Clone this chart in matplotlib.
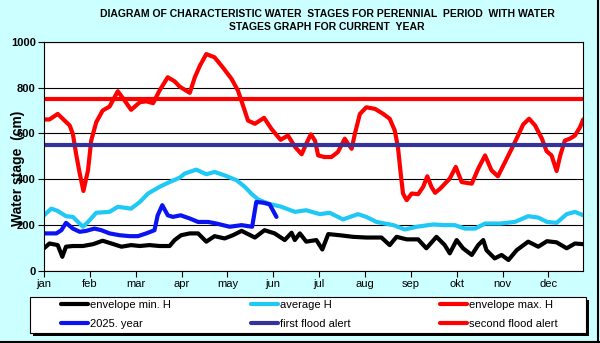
import matplotlib
matplotlib.use("Agg")
import matplotlib.pyplot as plt
from matplotlib.lines import Line2D
from matplotlib.patches import Rectangle

plt.rcParams['font.family'] = ['Liberation Sans', 'DejaVu Sans']

months = ["jan", "feb", "mar", "apr", "may", "jun",
          "jul", "aug", "sep", "okt", "nov", "dec"]

# positions are in month units (0 = 1 jan)
max_x = [0, 0.12, 0.30, 0.45, 0.56, 0.63, 0.70, 0.78, 0.86, 0.96, 1.03, 1.14, 1.28, 1.43,
         1.61, 1.76, 1.90, 2.09, 2.23, 2.38, 2.52, 2.70, 2.85, 2.96, 3.18, 3.29, 3.40,
         3.54, 3.72, 3.90, 4.09, 4.23, 4.34, 4.45, 4.60, 4.80, 4.96, 5.16, 5.32, 5.48,
         5.62, 5.72, 5.82, 5.91, 5.98, 6.12, 6.27, 6.41, 6.56, 6.63, 6.71, 6.78, 6.89,
         7.03, 7.22, 7.40, 7.54, 7.65, 7.72, 7.78, 7.83, 7.91, 8.02, 8.16, 8.27, 8.36,
         8.45, 8.53, 8.64, 8.74, 8.85, 8.98, 9.11, 9.22, 9.33, 9.47, 9.62, 9.76, 9.90,
         10.02, 10.20, 10.34, 10.45, 10.58, 10.71, 10.86, 10.96, 11.07, 11.18, 11.26,
         11.36, 11.47, 11.58, 11.69, 11.76]
max_h = [661, 661, 685, 656, 635, 598, 511, 425, 349, 439, 569, 649, 700, 717,
         784, 743, 703, 736, 740, 732, 787, 845, 827, 804, 777, 845, 895,
         946, 932, 888, 838, 787, 722, 656, 642, 668, 620, 572, 591, 540,
         509, 555, 596, 569, 504, 497, 497, 519, 577, 555, 533, 598, 685,
         714, 707, 685, 664, 613, 540, 425, 338, 309, 338, 335, 367, 413,
         367, 341, 359, 380, 403, 454, 388, 384, 381, 446, 504, 439, 413,
         461, 533, 591, 639, 664, 635, 577, 523, 504, 436, 504,
         569, 577, 591, 627, 661]

avg_x = [0, 0.16, 0.30, 0.48, 0.63, 0.85, 0.96, 1.14, 1.43, 1.61, 1.90, 2.09, 2.27,
         2.52, 2.74, 2.96, 3.07, 3.32, 3.54, 3.72, 3.94, 4.20, 4.38, 4.52, 4.67, 4.89,
         5.18, 5.47, 5.72, 5.91, 6.02, 6.23, 6.52, 6.85, 7.03, 7.25, 7.62, 7.87, 8.13,
         8.49, 8.74, 8.96, 9.18, 9.40, 9.62, 9.95, 10.27, 10.56, 10.78, 10.97, 11.18,
         11.40, 11.58, 11.76]
avg_h = [243, 272, 262, 239, 236, 193, 214, 254, 258, 280, 272, 301, 338,
         367, 388, 407, 425, 442, 422, 432, 417, 396, 367, 338, 312, 294,
         280, 258, 265, 254, 248, 254, 225, 248, 236, 214, 200, 181, 193,
         203, 200, 200, 185, 185, 207, 207, 214, 239, 233, 214, 210,
         248, 258, 243]

min_x = [0, 0.12, 0.30, 0.40, 0.48, 0.63, 0.85, 1.07, 1.28, 1.47, 1.69, 1.90, 2.09,
         2.30, 2.52, 2.74, 2.85, 2.99, 3.18, 3.36, 3.54, 3.72, 3.94, 4.12, 4.31, 4.60,
         4.81, 5.03, 5.25, 5.40, 5.47, 5.58, 5.72, 5.94, 6.07, 6.20, 6.45, 6.74, 7.03,
         7.36, 7.54, 7.69, 7.91, 8.16, 8.34, 8.56, 8.74, 8.85, 9.00, 9.14, 9.33, 9.47,
         9.58, 9.65, 9.83, 9.98, 10.13, 10.31, 10.56, 10.78, 10.97, 11.18, 11.40,
         11.58, 11.76]
min_h = [99, 120, 113, 62, 106, 109, 109, 117, 132, 120, 106, 113, 109,
         113, 109, 109, 135, 156, 164, 164, 128, 152, 142, 156, 175, 146,
         178, 164, 135, 167, 135, 164, 128, 135, 94, 161, 156, 149, 146,
         146, 113, 149, 138, 138, 99, 149, 113, 77, 135, 99, 70, 113,
         135, 91, 55, 70, 48, 91, 128, 106, 130, 125, 99,
         120, 117]

cur_x = [0, 0.27, 0.38, 0.48, 0.63, 0.78, 0.92, 1.10, 1.25, 1.43, 1.65, 1.87, 2.05,
         2.23, 2.41, 2.48, 2.58, 2.70, 2.81, 2.98, 3.18, 3.36, 3.58, 3.76, 4.05, 4.31,
         4.54, 4.63, 4.78, 4.92, 5.07]
cur_h = [164, 164, 178, 210, 185, 171, 175, 185, 178, 164, 156, 152, 152,
         164, 178, 243, 287, 243, 236, 243, 229, 214, 214, 207, 193, 200,
         193, 301, 298, 291, 236]

first_alert = 550
second_alert = 750

x_end = 11.76

W, H = 600, 343
fig = plt.figure(figsize=(6, 3.43), dpi=100, facecolor="#CCFFFF")
# dark right / bottom edge of the chart area
fig.lines.append(Line2D([598 / W, 598 / W], [0, 1], transform=fig.transFigure,
                        color="black", lw=1.5))
fig.lines.append(Line2D([0, 1], [1.5 / H, 1.5 / H], transform=fig.transFigure,
                        color="black", lw=1.5))

ax = fig.add_axes([0.0733, 0.2099, 0.8987, 0.6685])
ax.set_facecolor("white")

ax.set_ylim(0, 1000)
ax.set_xlim(0, x_end)
ax.set_yticks(range(0, 1001, 200))
ax.yaxis.grid(True, color="black", linewidth=0.8)
ax.set_axisbelow(True)
ax.set_xticks(range(12))
ax.set_xticklabels(months, fontsize=8)
for lbl in ax.get_yticklabels():
    lbl.set_fontweight("bold")
ax.tick_params(axis="y", labelsize=8, length=4, width=0.8, pad=2)
ax.tick_params(axis="x", length=4, width=0.8, pad=2)
for sp in ax.spines.values():
    sp.set_linewidth(0.8)

lw = 3.0
style = dict(lw=lw, solid_joinstyle="round", solid_capstyle="round")
ax.plot(min_x, min_h, color="black", **style)
ax.plot(avg_x, avg_h, color="#1FC8F5", **style)
ax.plot(max_x, max_h, color="#FF0000", **style)
ax.plot(cur_x, cur_h, color="#0A14F0", **style)
ax.axhline(first_alert, color="#333399", lw=lw)
ax.axhline(second_alert, color="#FF0000", lw=lw)

ax.set_ylabel("Water stage  (cm)", fontsize=10, fontweight="bold")
ax.yaxis.set_label_coords(-0.036, 0.45)

fig.text(0.545, 0.958, "DIAGRAM OF CHARACTERISTIC WATER  STAGES FOR PERENNIAL  PERIOD  WITH WATER",
         ha="center", va="center", fontsize=7.5, fontweight="bold")
fig.text(0.545, 0.921, "STAGES GRAPH FOR CURRENT  YEAR",
         ha="center", va="center", fontsize=7.5, fontweight="bold")

# legend box with black drop shadow
bx0, by0, bx1, by1 = 30, 297, 586, 333
fig.patches.append(Rectangle(((bx0 + 3) / W, 1 - (by1 + 3) / H), (bx1 - bx0) / W,
                             (by1 - by0) / H, transform=fig.transFigure,
                             facecolor="black", edgecolor="none", zorder=1))
fig.patches.append(Rectangle((bx0 / W, 1 - by1 / H), (bx1 - bx0) / W, (by1 - by0) / H,
                             transform=fig.transFigure, facecolor="white",
                             edgecolor="black", lw=0.8, zorder=2))

legend_cols = [
    (61, [("black", "envelope min. H"), ("#0A14F0", "2025. year")]),
    (251, [("#1FC8F5", "average H"), ("#333399", "first flood alert")]),
    (440, [("#FF0000", "envelope max. H"), ("#FF0000", "second flood alert")]),
]
for x0, entries in legend_cols:
    hs = [Line2D([], [], color=c, lw=lw, solid_capstyle="round") for c, _ in entries]
    ls = [t for _, t in entries]
    lg = fig.legend(hs, ls, loc="center left", bbox_to_anchor=(x0 / W, 1 - 314.5 / H),
                    bbox_transform=fig.transFigure, frameon=False, fontsize=8,
                    handlelength=2.4, handletextpad=0.25, borderpad=0, borderaxespad=0,
                    labelspacing=0.75)
    lg.set_zorder(3)

fig.savefig("out.png", dpi=100, facecolor=fig.get_facecolor())
